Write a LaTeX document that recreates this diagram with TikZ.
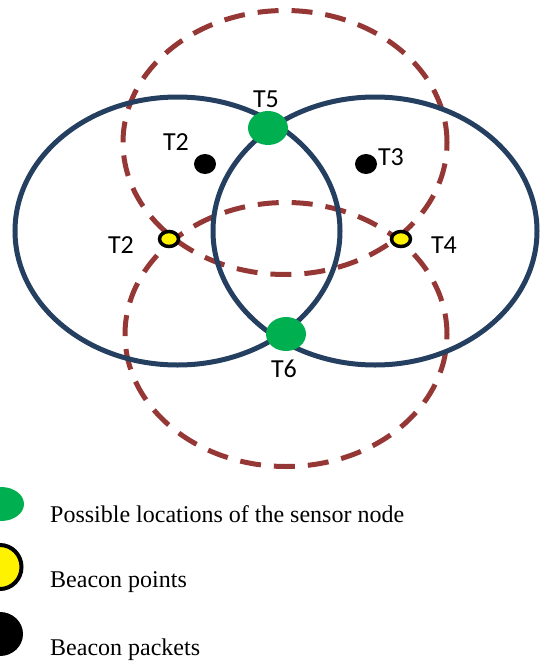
\documentclass[tikz,border=0pt]{standalone}
\usepackage{fontspec}
\usetikzlibrary{shapes.geometric}
\setmainfont{Liberation Serif}
\newfontfamily\lblfont{Carlito}
\definecolor{navy}{HTML}{243F60}
\definecolor{brick}{HTML}{953735}
\definecolor{grn}{HTML}{00B050}
\begin{document}
\begin{tikzpicture}[x=1pt,y=-1pt,
  solidring/.style={draw=navy,line width=5pt},
  dashring/.style={draw=brick,line width=5pt,dash pattern=on 21pt off 13pt},
  locnode/.style={ellipse,fill=grn,minimum width=40pt,minimum height=34pt,inner sep=0pt},
  packet/.style={ellipse,fill=black,minimum width=22pt,minimum height=20pt,inner sep=0pt},
  beacon/.style={ellipse,fill=yellow,draw=black,line width=3.5pt,minimum width=19pt,minimum height=15pt,inner sep=0pt},
  tlabel/.style={font=\lblfont\fontsize{26}{30}\selectfont,inner sep=0pt},
  legtext/.style={font=\fontsize{24}{28}\selectfont,anchor=west,inner sep=0pt}]
\useasboundingbox (0,0) rectangle (539,664);
% rings
\draw[dashring] (285,142.5) ellipse [x radius=162pt, y radius=132pt];
\draw[dashring] (286,334.5) ellipse [x radius=161pt, y radius=132pt];
\draw[solidring] (177.5,231) ellipse [x radius=162.5pt, y radius=134pt];
\draw[solidring] (375,231) ellipse [x radius=162pt, y radius=134pt];
% points
\node[locnode] (t5) at (268,128) {};
\node[locnode] (t6) at (286,334) {};
\node[packet] (p2) at (205,164) {};
\node[packet] (p3) at (366,164) {};
\node[beacon] (b2) at (169,239) {};
\node[beacon] (b4) at (401,239) {};
% labels
\node[tlabel] (l5) at (266,99) {T5};
\node[tlabel] (l2a) at (176,142) {T2};
\node[tlabel] (l3) at (391,157) {T3};
\node[tlabel] (l2b) at (121,245) {T2};
\node[tlabel] (l4) at (444,245) {T4};
\node[tlabel] (l6) at (284,369) {T6};
% legend
\node[locnode,minimum width=46pt] (lg1) at (1,504) {};
\node[beacon,line width=4pt,minimum width=43pt,minimum height=44pt] (lg2) at (0,567) {};
\node[packet,minimum width=46pt,minimum height=44pt] (lg3) at (0,634) {};
\node[legtext] (tx1) at (50,514) {Possible locations of the sensor node};
\node[legtext] (tx2) at (50,582) {Beacon points};
\node[legtext] (tx3) at (50,650) {Beacon packets};
\end{tikzpicture}
\end{document}
